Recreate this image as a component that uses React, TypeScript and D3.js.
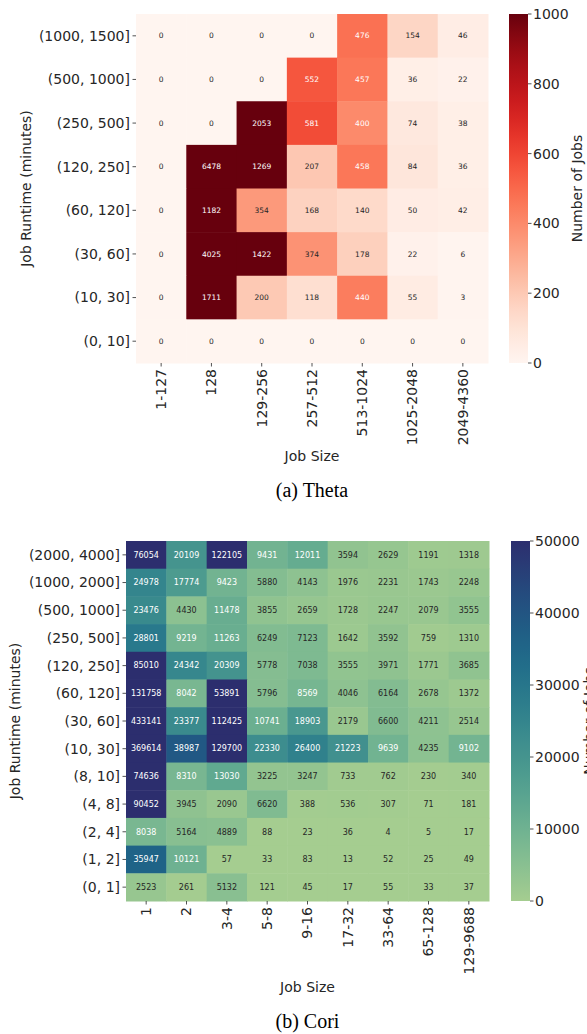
import React from 'react';
import * as d3 from 'd3';

// Theta data
const thetaRows = ['(1000, 1500]', '(500, 1000]', '(250, 500]', '(120, 250]', '(60, 120]', '(30, 60]', '(10, 30]', '(0, 10]'];
const thetaCols = ['1-127', '128', '129-256', '257-512', '513-1024', '1025-2048', '2049-4360'];
const thetaValues = [
  [0, 0, 0, 0, 476, 154, 46],
  [0, 0, 0, 552, 457, 36, 22],
  [0, 0, 2053, 581, 400, 74, 38],
  [0, 6478, 1269, 207, 458, 84, 36],
  [0, 1182, 354, 168, 140, 50, 42],
  [0, 4025, 1422, 374, 178, 22, 6],
  [0, 1711, 200, 118, 440, 55, 3],
  [0, 0, 0, 0, 0, 0, 0],
];
const thetaTicks = [0, 200, 400, 600, 800, 1000];

// Cori data
const coriRows = ['(2000, 4000]', '(1000, 2000]', '(500, 1000]', '(250, 500]', '(120, 250]', '(60, 120]', '(30, 60]', '(10, 30]', '(8, 10]', '(4, 8]', '(2, 4]', '(1, 2]', '(0, 1]'];
const coriCols = ['1', '2', '3-4', '5-8', '9-16', '17-32', '33-64', '65-128', '129-9688'];
const coriValues = [
  [76054, 20109, 122105, 9431, 12011, 3594, 2629, 1191, 1318],
  [24978, 17774, 9423, 5880, 4143, 1976, 2231, 1743, 2248],
  [23476, 4430, 11478, 3855, 2659, 1728, 2247, 2079, 3555],
  [28801, 9219, 11263, 6249, 7123, 1642, 3592, 759, 1310],
  [85010, 24342, 20309, 5778, 7038, 3555, 3971, 1771, 3685],
  [131758, 8042, 53891, 5796, 8569, 4046, 6164, 2678, 1372],
  [433141, 23377, 112425, 10741, 18903, 2179, 6600, 4211, 2514],
  [369614, 38987, 129700, 22330, 26400, 21223, 9639, 4235, 9102],
  [74636, 8310, 13030, 3225, 3247, 733, 762, 230, 340],
  [90452, 3945, 2090, 6620, 388, 536, 307, 71, 181],
  [8038, 5164, 4889, 88, 23, 36, 4, 5, 17],
  [35947, 10121, 57, 33, 83, 13, 52, 25, 49],
  [2523, 261, 5132, 121, 45, 17, 55, 33, 37],
];
const coriTicks = [0, 10000, 20000, 30000, 40000, 50000];

// approximation of seaborn "crest"
const crest = d3.interpolateRgbBasis(['#a5cd90', '#7dba91', '#59a590', '#40908e', '#287a8c', '#1c6488', '#254b7f', '#2c2e6e']);

const FONT = 'DejaVu Sans, sans-serif';
const TEXT = '#262626';

function luminance(c: string) {
  const rgb = d3.rgb(c);
  const f = (v: number) => {
    v = v / 255;
    return v <= 0.03928 ? v / 12.92 : Math.pow((v + 0.055) / 1.055, 2.4);
  };
  return 0.2126 * f(rgb.r) + 0.7152 * f(rgb.g) + 0.0722 * f(rgb.b);
}

type HeatProps = {
  rows: string[];
  cols: string[];
  values: number[][];
  ticks: number[];
  interp: (t: number) => string;
  box: { x0: number; x1: number; y0: number; y1: number };
  cbar: { x0: number; x1: number };
  annSize: number;
  yLabelX: number;
  cbarLabelX: number;
  xLabelY: number;
  caption: string;
  captionY: number;
  gradId: string;
};

const Heatmap = (p: HeatProps) => {
  const x = d3.scaleBand().domain(p.cols).range([p.box.x0, p.box.x1]);
  const y = d3.scaleBand().domain(p.rows).range([p.box.y0, p.box.y1]);
  const vmax = p.ticks[p.ticks.length - 1];
  const color = d3.scaleSequential(p.interp).domain([0, vmax]).clamp(true);
  const cy = d3.scaleLinear().domain([0, vmax]).range([p.box.y1, p.box.y0]);
  const midY = (p.box.y0 + p.box.y1) / 2;
  const midX = (p.box.x0 + p.box.x1) / 2;
  const stops = d3.range(0, 1.0001, 0.05);

  return (
    <g>
      <defs>
        <linearGradient id={p.gradId} x1="0" y1="1" x2="0" y2="0">
          {stops.map((t) => (
            <stop key={t} offset={t} stopColor={p.interp(t)} />
          ))}
        </linearGradient>
      </defs>
      {p.values.map((row, i) =>
        row.map((v, j) => {
          const c = color(v);
          const cx = x(p.cols[j])!;
          const ry = y(p.rows[i])!;
          return (
            <g key={`${i}-${j}`}>
              <rect x={cx} y={ry} width={x.bandwidth() + 0.5} height={y.bandwidth() + 0.5} fill={c} />
              <text
                x={cx + x.bandwidth() / 2}
                y={ry + y.bandwidth() / 2}
                dy="0.35em"
                textAnchor="middle"
                fontSize={p.annSize}
                fontFamily={FONT}
                fill={luminance(c) > 0.408 ? TEXT : '#ffffff'}
              >
                {v}
              </text>
            </g>
          );
        })
      )}
      {/* y ticks */}
      {p.rows.map((r) => {
        const yy = y(r)! + y.bandwidth() / 2;
        return (
          <g key={r}>
            <line x1={p.box.x0 - 3.5} x2={p.box.x0} y1={yy} y2={yy} stroke={TEXT} strokeWidth={0.8} />
            <text x={p.box.x0 - 6} y={yy} dy="0.35em" textAnchor="end" fontSize={14} fontFamily={FONT} fill={TEXT}>
              {r}
            </text>
          </g>
        );
      })}
      {/* x ticks */}
      {p.cols.map((c) => {
        const xx = x(c)! + x.bandwidth() / 2;
        return (
          <g key={c}>
            <line x1={xx} x2={xx} y1={p.box.y1} y2={p.box.y1 + 3.5} stroke={TEXT} strokeWidth={0.8} />
            <text
              transform={`translate(${xx},${p.box.y1 + 6}) rotate(-90)`}
              dy="0.35em"
              textAnchor="end"
              fontSize={14}
              fontFamily={FONT}
              fill={TEXT}
            >
              {c}
            </text>
          </g>
        );
      })}
      <text transform={`translate(${p.yLabelX},${midY}) rotate(-90)`} textAnchor="middle" fontSize={14} fontFamily={FONT} fill={TEXT}>
        Job Runtime (minutes)
      </text>
      <text x={midX} y={p.xLabelY} textAnchor="middle" fontSize={14} fontFamily={FONT} fill={TEXT}>
        Job Size
      </text>
      {/* colorbar */}
      <rect x={p.cbar.x0} y={p.box.y0} width={p.cbar.x1 - p.cbar.x0} height={p.box.y1 - p.box.y0} fill={`url(#${p.gradId})`} />
      {p.ticks.map((t) => (
        <g key={t}>
          <line x1={p.cbar.x1} x2={p.cbar.x1 + 3.5} y1={cy(t)} y2={cy(t)} stroke={TEXT} strokeWidth={0.8} />
          <text x={p.cbar.x1 + 5} y={cy(t)} dy="0.35em" fontSize={14} fontFamily={FONT} fill={TEXT}>
            {t}
          </text>
        </g>
      ))}
      <text transform={`translate(${p.cbarLabelX},${midY}) rotate(-90)`} textAnchor="middle" fontSize={14} fontFamily={FONT} fill={TEXT}>
        Number of Jobs
      </text>
      <text x={midX} y={p.captionY} textAnchor="middle" fontSize={20} fontFamily="Liberation Serif, Times New Roman, serif" fill="#000">
        {p.caption}
      </text>
    </g>
  );
};

export default function App() {
  return (
    <div style={{ position: 'absolute', left: 0, top: 0 }}>
      <svg width={587} height={1034} style={{ display: 'block', background: '#fff' }}>
        <Heatmap
          rows={thetaRows}
          cols={thetaCols}
          values={thetaValues}
          ticks={thetaTicks}
          interp={d3.interpolateReds}
          box={{ x0: 136, x1: 488, y0: 14, y1: 363 }}
          cbar={{ x0: 509, x1: 528 }}
          annSize={7.5}
          yLabelX={31}
          cbarLabelX={582}
          xLabelY={461}
          caption="(a) Theta"
          captionY={497}
          gradId="gradTheta"
        />
        <Heatmap
          rows={coriRows}
          cols={coriCols}
          values={coriValues}
          ticks={coriTicks}
          interp={crest}
          box={{ x0: 126, x1: 489, y0: 541, y1: 901 }}
          cbar={{ x0: 511, x1: 530 }}
          annSize={8}
          yLabelX={20}
          cbarLabelX={594}
          xLabelY={992}
          caption="(b) Cori"
          captionY={1028}
          gradId="gradCori"
        />
      </svg>
    </div>
  );
}
